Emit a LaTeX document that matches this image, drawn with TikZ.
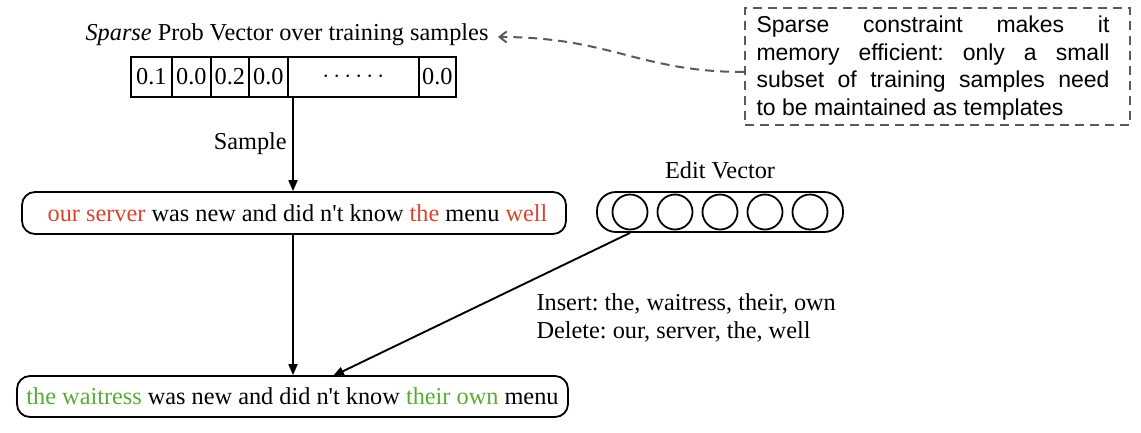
\documentclass[tikz,border=0pt]{standalone}
\usepackage{fontspec}
\setmainfont{Liberation Serif}
\newfontfamily\arialfont{Liberation Sans}
\usetikzlibrary{arrows.meta}
\definecolor{delred}{RGB}{217,67,47}
\definecolor{insgreen}{RGB}{90,170,55}
\definecolor{dashgray}{RGB}{90,90,90}
\newcommand{\apos}{\textquotesingle}
\frenchspacing
\begin{document}
\begin{tikzpicture}[x=1pt,y=-1pt,
  serif/.style={font=\fontsize{24.3}{28}\selectfont},
  cell/.style={draw,line width=1.8pt,minimum height=40pt,inner sep=0pt,anchor=west,serif},
  sentbox/.style={draw,line width=1.8pt,rounded corners=13pt,inner sep=0pt,serif},
  arr/.style={line width=1.9pt,-{Triangle[length=11pt,width=9pt]}},
  evcirc/.style={draw,circle,line width=1.8pt,minimum size=35pt,inner sep=0pt},
  note/.style={draw=dashgray,dashed,dash pattern=on 9pt off 6pt,line width=2pt,inner sep=0pt}]
\useasboundingbox (0,0) rectangle (1141,432);
% title
\node[serif] (title) at (287,35) {\textit{Sparse} Prob Vector over training samples};
% vector cells
\node[cell,minimum width=41pt] (v1) at (130,77) {0.1};
\node[cell,minimum width=39pt] (v2) at (171,77) {0.0};
\node[cell,minimum width=38pt] (v3) at (210,77) {0.2};
\node[cell,minimum width=39pt] (v4) at (248,77) {0.0};
\node[cell,minimum width=131pt] (v5) at (287,77) {$\cdots\cdots$};
\node[cell,minimum width=37pt] (v6) at (418,77) {0.0};
% sentence boxes
\node[sentbox,minimum width=544pt,minimum height=42pt] (s1) at (294,213)
  {\hspace*{7pt}\textcolor{delred}{our server} was new and did n\apos t know \textcolor{delred}{the} menu \textcolor{delred}{well}};
\node[sentbox,minimum width=551pt,minimum height=41pt] (s2) at (292.5,396.5)
  {\textcolor{insgreen}{the waitress} was new and did n\apos t know \textcolor{insgreen}{their own} menu};
% sample arrow
\coordinate (vs) at (293,97);
\draw[arr] (vs) -- (vs |- s1.north) node[midway,left=2pt,serif] (samp) {Sample};
\draw[arr] (s1.south -| vs) -- (s2.north -| vs);
% edit vector
\node[serif] (evl) at (720,170) {Edit Vector};
\node[draw,line width=1.8pt,rounded corners=19pt,minimum width=246pt,minimum height=40pt] (ev) at (720,212) {};
\foreach \i/\x in {1/630,2/675,3/720,4/765,5/810}{
  \node[evcirc] (c\i) at (\x,212) {};
}
\coordinate (t2) at (333,376);
\draw[arr] (c1.south |- ev.south) -- (t2);
\node[serif,anchor=north west,align=left] (ops) at (533,290)
  {Insert: the, waitress, their, own\\Delete: our, server, the, well};
% note box
\node[note,minimum width=385pt,minimum height=117pt] (nb) at (937.5,66.5) {};
\node[anchor=center,text width=353pt,align=justify,font=\arialfont\fontsize{23}{27.7}\selectfont] (nt) at (933,68)
  {\hyphenpenalty=10000 Sparse constraint makes it\linebreak memory efficient: only a small\linebreak subset of training samples need\linebreak to be maintained as templates};
\coordinate (ntip) at (498,37);
\draw[draw=dashgray,line width=2pt,dash pattern=on 9pt off 6pt,-{Straight Barb[length=7pt,width=11pt]}]
  (nb.west |- 0,72) .. controls (640,72) and (610,37) .. (ntip);
\end{tikzpicture}
\end{document}
